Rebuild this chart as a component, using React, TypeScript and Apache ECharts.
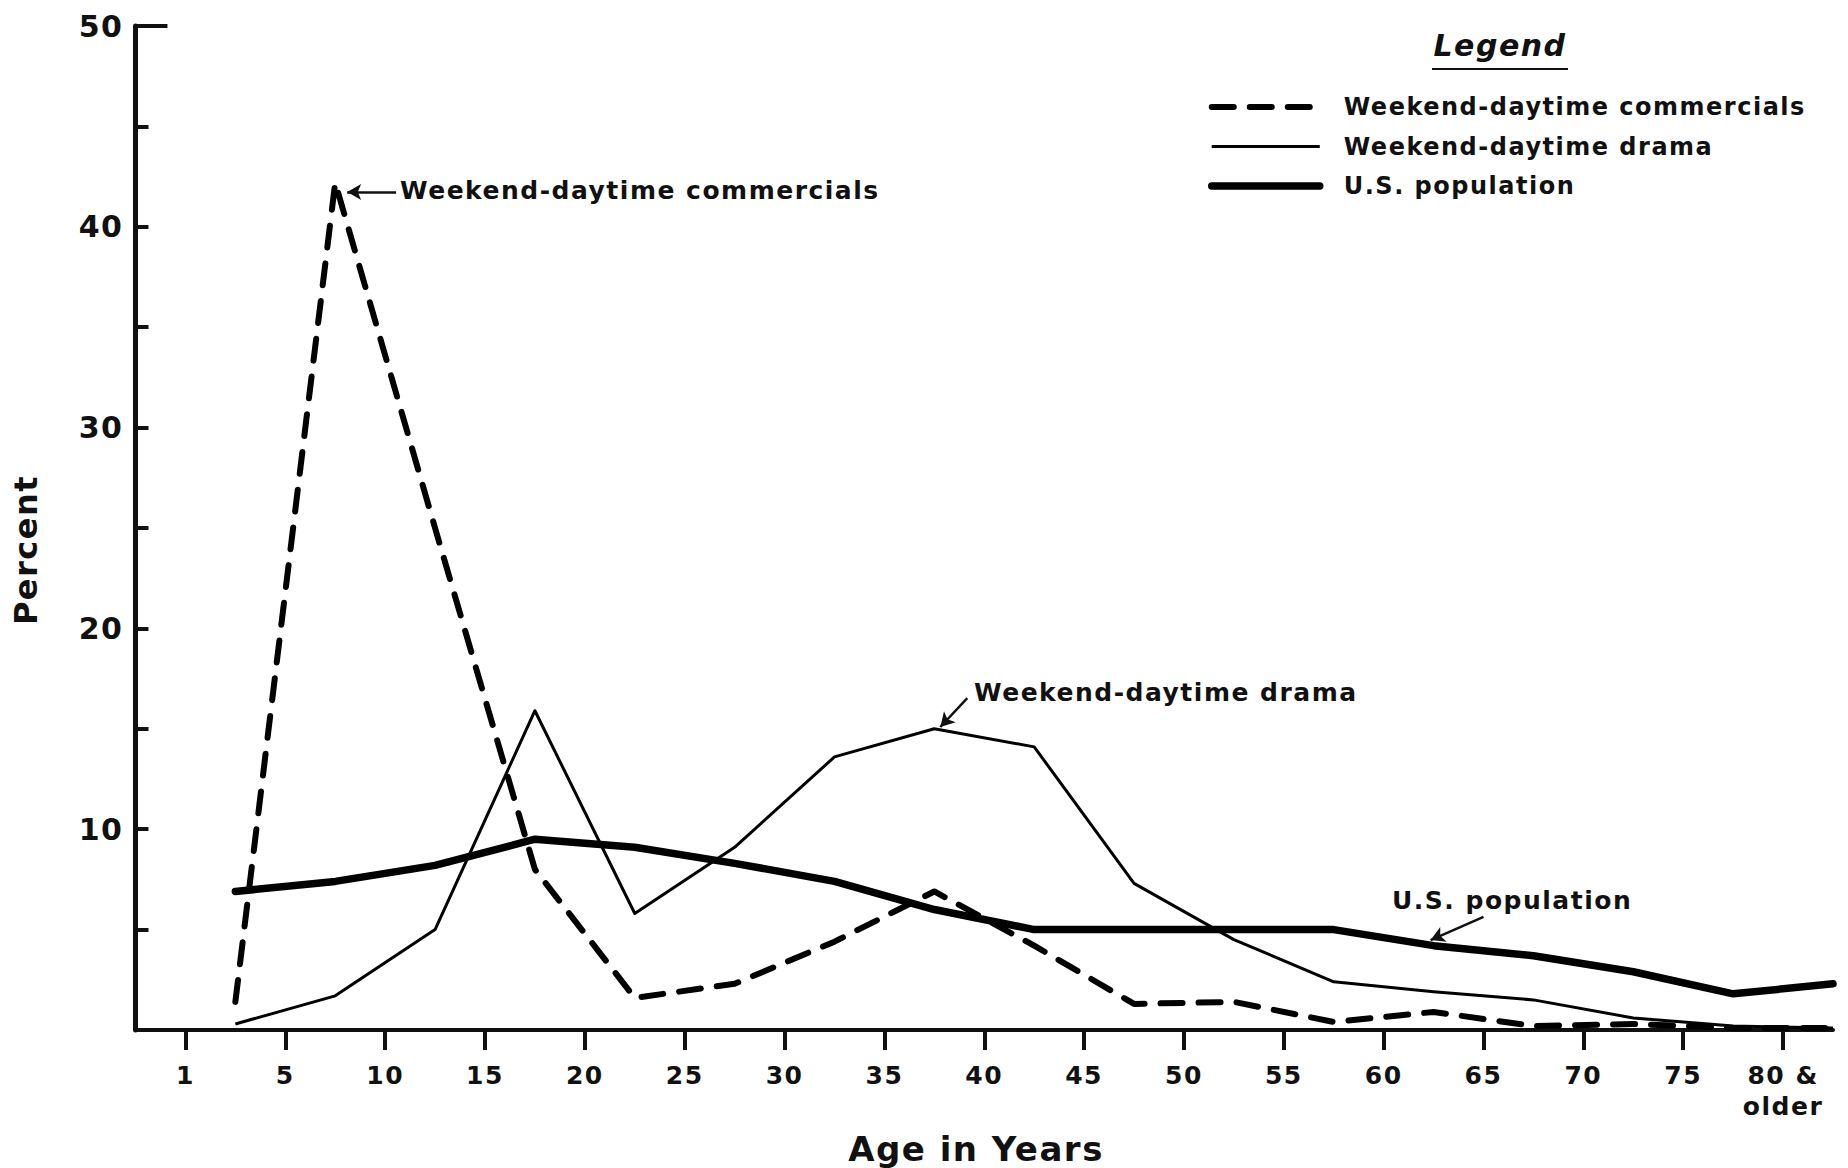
import React, { useEffect, useRef } from 'react';
import * as echarts from 'echarts';

// Age groups (one point per group, drawn between the tick marks)
const ageGroups = ['1-4', '5-9', '10-14', '15-19', '20-24', '25-29', '30-34', '35-39', '40-44', '45-49', '50-54', '55-59', '60-64', '65-69', '70-74', '75-79', '80 & older'];
// Tick labels placed at the group boundaries
const xTickLabels = ['1', '5', '10', '15', '20', '25', '30', '35', '40', '45', '50', '55', '60', '65', '70', '75', '80 &\nolder'];

const commercials = [1.4, 42.2, 25.0, 8.0, 1.6, 2.3, 4.4, 6.9, 4.2, 1.3, 1.4, 0.4, 0.9, 0.2, 0.3, 0.1, 0.1];
const drama = [0.3, 1.7, 5.0, 15.9, 5.8, 9.1, 13.6, 15.0, 14.1, 7.3, 4.5, 2.4, 1.9, 1.5, 0.6, 0.2, 0.1];
const population = [6.9, 7.4, 8.2, 9.5, 9.1, 8.3, 7.4, 6.0, 5.0, 5.0, 5.0, 5.0, 4.2, 3.7, 2.9, 1.8, 2.3];

const seriesNames = ['Weekend-daytime commercials', 'Weekend-daytime drama', 'U.S. population'];

const FONT = '"DejaVu Sans", sans-serif';
const INK = '#111';

export default function App() {
  const ref = useRef<HTMLDivElement>(null);

  useEffect(() => {
    if (!ref.current) return;
    const chart = echarts.init(ref.current, undefined, { renderer: 'svg' });
    const toPts = (arr: number[]) => ageGroups.map((_, i) => [i + 0.5, arr[i]]);
    const tickPositions = xTickLabels.map((_, i) => i);

    const arrowLine = (from: number[], to: number[]) => ({
      silent: true,
      symbol: ['none', 'arrow'],
      symbolSize: [12, 14],
      label: { show: false },
      lineStyle: { color: INK, width: 2.5, type: 'solid' },
      data: [[{ coord: from }, { coord: to }]],
    });

    chart.setOption({
      animation: false,
      backgroundColor: '#fff',
      grid: { left: 135.5, right: 15, top: 26, bottom: 138 },
      xAxis: {
        type: 'value',
        min: -0.5,
        max: 16.5,
        splitLine: { show: false },
        axisLine: { show: true, onZero: true, lineStyle: { color: INK, width: 4 } },
        axisTick: {
          show: true,
          customValues: tickPositions,
          length: 20,
          inside: false,
          lineStyle: { color: INK, width: 4 },
        },
        axisLabel: {
          customValues: tickPositions,
          formatter: (v: number) => xTickLabels[Math.round(v)] ?? '',
          margin: 30,
          fontFamily: FONT,
          fontWeight: 'bold',
          fontSize: 25,
          lineHeight: 31,
          color: INK,
        },
      },
      yAxis: {
        type: 'value',
        min: 0,
        max: 50,
        interval: 5,
        splitLine: { show: false },
        axisLine: { show: true, onZero: false, lineStyle: { color: INK, width: 5 } },
        axisTick: { show: true, inside: true, length: 13, lineStyle: { color: INK, width: 4 } },
        axisLabel: {
          formatter: (v: number) => (v > 0 && v % 10 === 0 ? String(v) : ''),
          margin: 12,
          fontFamily: FONT,
          fontWeight: 'bold',
          fontSize: 30,
          color: INK,
        },
      },
      legend: {
        orient: 'vertical',
        left: 1208,
        top: 92,
        padding: 0,
        itemWidth: 108,
        itemHeight: 14,
        itemGap: 9.5,
        selectedMode: false,
        lineStyle: { width: 'inherit' },
        itemStyle: { opacity: 0, color: 'transparent', borderWidth: 0 },
        textStyle: {
          fontFamily: FONT,
          fontWeight: 'bold',
          fontSize: 24,
          lineHeight: 30,
          color: INK,
          padding: [0, 0, 0, 19],
        },
        data: seriesNames,
      },
      series: [
        {
          name: seriesNames[0],
          type: 'line',
          data: toPts(commercials),
          symbol: 'none',
          lineStyle: { color: '#000', width: 6, type: [22, 16], cap: 'round', join: 'round' },
          itemStyle: { color: '#000' },
          markLine: arrowLine([2.11, 41.73], [1.62, 41.73]),
          z: 3,
        },
        {
          name: seriesNames[1],
          type: 'line',
          data: toPts(drama),
          symbol: 'none',
          lineStyle: { color: '#000', width: 3, type: 'solid', join: 'round' },
          itemStyle: { color: '#000' },
          markLine: arrowLine([7.83, 16.53], [7.56, 15.09]),
          z: 2,
        },
        {
          name: seriesNames[2],
          type: 'line',
          data: toPts(population),
          symbol: 'none',
          lineStyle: { color: '#000', width: 7.5, type: 'solid', join: 'round', cap: 'round' },
          itemStyle: { color: '#000' },
          markLine: {
            silent: true,
            symbol: ['none', 'none'],
            label: { show: false },
            lineStyle: { color: INK, width: 2.5, type: 'solid' },
            data: [
              [{ coord: [13.0, 5.63] }, { coord: [12.47, 4.48], symbol: 'arrow', symbolSize: [12, 14] }],
              [{ coord: [-0.5, 50], lineStyle: { width: 4 } }, { coord: [-0.18, 50] }],
            ],
          },
          z: 4,
        },
      ],
      graphic: [
        {
          type: 'text',
          x: 1500,
          y: 45,
          style: {
            text: 'Legend',
            font: `italic bold 30px ${FONT}`,
            fill: INK,
            align: 'center',
            verticalAlign: 'middle',
          },
        },
        {
          type: 'line',
          shape: { x1: 1432, y1: 69, x2: 1568, y2: 69 },
          style: { stroke: INK, lineWidth: 2 },
        },
        {
          type: 'text',
          x: 400,
          y: 190,
          style: { text: 'Weekend-daytime commercials', font: `bold 25px ${FONT}`, fill: INK, align: 'left', verticalAlign: 'middle' },
        },
        {
          type: 'text',
          x: 974,
          y: 692,
          style: { text: 'Weekend-daytime drama', font: `bold 25px ${FONT}`, fill: INK, align: 'left', verticalAlign: 'middle' },
        },
        {
          type: 'text',
          x: 1392,
          y: 900,
          style: { text: 'U.S. population', font: `bold 25px ${FONT}`, fill: INK, align: 'left', verticalAlign: 'middle' },
        },
        {
          type: 'text',
          x: 976,
          y: 1149,
          style: { text: 'Age in Years', font: `bold 34px ${FONT}`, fill: INK, align: 'center', verticalAlign: 'middle' },
        },
        {
          type: 'text',
          x: 26,
          y: 550,
          rotation: Math.PI / 2,
          style: { text: 'Percent', font: `bold 32px ${FONT}`, fill: INK, align: 'center', verticalAlign: 'middle' },
        },
      ],
    });
    return () => chart.dispose();
  }, []);

  return (
    <div
      ref={ref}
      style={{
        position: 'fixed',
        left: 0,
        top: 0,
        width: 1848,
        height: 1168,
        background: '#fff',
        letterSpacing: '1.5px',
      }}
    />
  );
}
